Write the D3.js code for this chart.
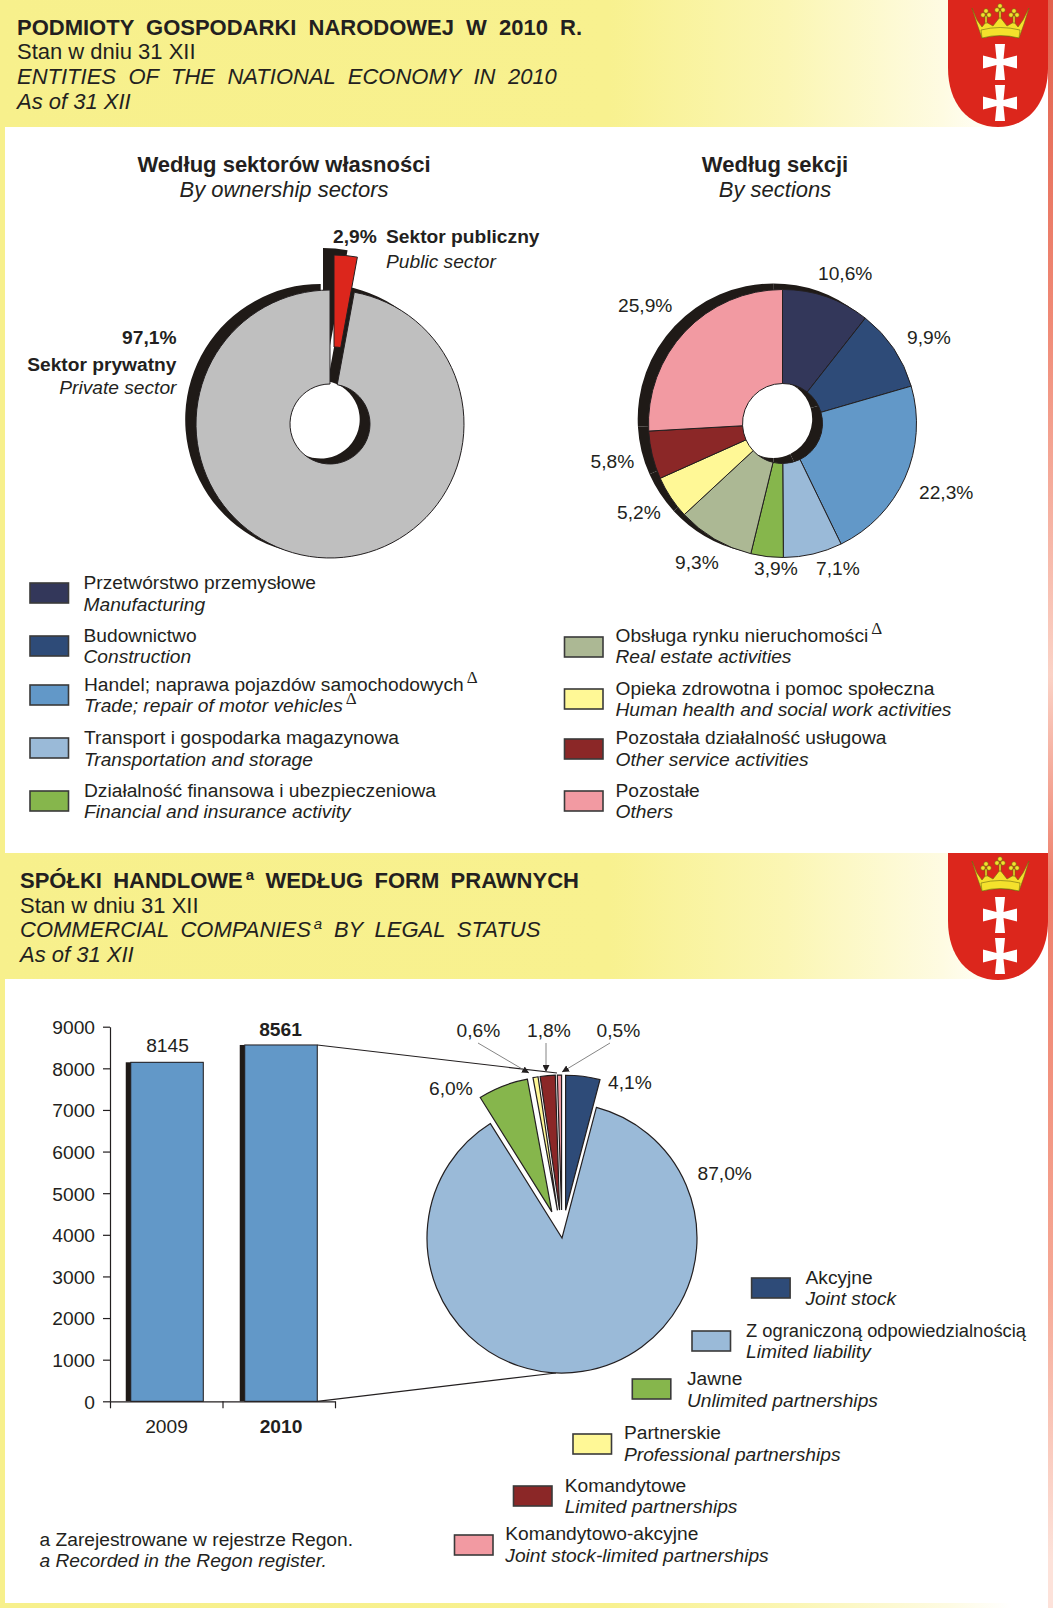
<!DOCTYPE html>
<html><head><meta charset="utf-8">
<script src="https://cdnjs.cloudflare.com/ajax/libs/d3/7.8.5/d3.min.js"></script>
<style>html,body{margin:0;padding:0;background:#fff}svg{display:block}
text{font-family:"Liberation Sans",Arial,sans-serif;fill:#231f20}</style></head><body>
<script>
// ---- data ----
const ownershipNames = ["Sektor publiczny","Sektor prywatny"];
const ownershipValues = [2.9,97.1];
const sectionNames = ["Przetwórstwo przemysłowe","Budownictwo","Handel; naprawa pojazdów samochodowych\u0394","Transport i gospodarka magazynowa","Działalność finansowa i ubezpieczeniowa","Obsługa rynku nieruchomości\u0394","Opieka zdrowotna i pomoc społeczna","Pozostała działalność usługowa","Pozostałe"];
const sectionNamesEn = ["Manufacturing","Construction","Trade; repair of motor vehicles\u0394","Transportation and storage","Financial and insurance activity","Real estate activities","Human health and social work activities","Other service activities","Others"];
const sectionValues = [10.6,9.9,22.3,7.1,3.9,9.3,5.2,5.8,25.9];
const sectionColors = ["#33375a","#2e4b78","#6298c8","#9abad8","#86b64c","#acb894","#fff896","#8b2727","#f29aa2"];
const years = ["2009","2010"];
const companyCounts = [8145,8561];
const yTicks = [0,1000,2000,3000,4000,5000,6000,7000,8000,9000];
const formNames = ["Akcyjne","Z ograniczoną odpowiedzialnością","Jawne","Partnerskie","Komandytowe","Komandytowo-akcyjne"];
const formNamesEn = ["Joint stock","Limited liability","Unlimited partnerships","Professional partnerships","Limited partnerships","Joint stock-limited partnerships"];
const formValues = [4.1,87.0,6.0,0.6,1.8,0.5];
const formColors = ["#2e4b78","#9abad8","#86b64c","#fff896","#8b2727","#f29aa2"];

// ---- helpers ----
const INK="#231f20", SHADOW="#1f1a17", BASE=19.2, HEAD=22;
const svg=d3.select("body").append("svg").attr("width",1053).attr("height",1608);
const defs=svg.append("defs");
const hg=defs.append("linearGradient").attr("id","hg");
[[0,"#f7f08c"],[.58,"#f8f18f"],[.75,"#fbf6b4"],[.9,"#fefbe2"],[.96,"#ffffff"]].forEach(s=>hg.append("stop").attr("offset",s[0]).attr("stop-color",s[1]));
const rg=defs.append("linearGradient").attr("id","rg").attr("x1",0).attr("x2",0).attr("y1",0).attr("y2",1);
[[0,"#e2604c"],[.2,"#f08a76"],[.42,"#fbd2c6"],[.55,"#ee7e6a"],[.8,"#f6a895"],[.97,"#fde2da"]].forEach(s=>rg.append("stop").attr("offset",s[0]).attr("stop-color",s[1]));
defs.append("marker").attr("id","ah").attr("viewBox","0 0 8 8").attr("refX",8).attr("refY",4).attr("markerUnits","userSpaceOnUse").attr("markerWidth",7).attr("markerHeight",7).attr("orient","auto").append("path").attr("d","M0,0L8,4L0,8Z").attr("fill",INK);

function put(g,x,y,str,o={}){
  const t=g.append("text").attr("x",x).attr("y",y).attr("font-size",o.size||BASE)
    .attr("font-weight",o.bold?"bold":null).attr("font-style",o.italic?"italic":null)
    .attr("text-anchor",o.anchor||"start");
  if(o.ws)t.attr("word-spacing",o.ws);
  const m=str.match(/^(.*?)(\u0394|\^a)(.*)$/);
  if(!m){t.text(str);return t;}
  t.append("tspan").text(m[1]);
  if(m[2]==="\u0394")
    t.append("tspan").attr("dx",3).attr("dy",-8).attr("font-size",17).attr("font-style","normal").style("font-family","Liberation Serif").text("\u0394");
  else{
    t.append("tspan").attr("dx",3).attr("dy",-8).attr("font-size",15).text("a");
    t.append("tspan").attr("dy",8).text(m[3]);
  }
  return t;
}
const pct=v=>v.toFixed(1).replace(".",",")+"%";

// ---- frame ----
const bg=svg.append("g");
bg.append("rect").attr("x",0).attr("y",0).attr("width",5).attr("height",1608).attr("fill","#f7f08c");
bg.append("rect").attr("x",0).attr("y",1603).attr("width",1053).attr("height",5).attr("fill","url(#hg)");
bg.append("rect").attr("x",1048).attr("y",0).attr("width",5).attr("height",1608).attr("fill","url(#rg)");
[[0,127],[853,126]].forEach(([y,h])=>bg.append("rect").attr("x",0).attr("y",y).attr("width",1048).attr("height",h).attr("fill","url(#hg)"));

function shield(y0){
  const g=svg.append("g").attr("transform",`translate(948,${y0})`);
  g.append("path").attr("d","M0,0H100V68C100,103 80,127 50,127C20,127 0,103 0,68Z").attr("fill","#dc261c");
  const cx=52;
  const cross=cy=>`M${cx-5},${cy-18}L${cx+5},${cy-18}L${cx+3.5},${cy-3}L${cx+17},${cy-6.5}L${cx+17},${cy+6.5}L${cx+3.5},${cy+3}L${cx+5},${cy+18}L${cx-5},${cy+18}L${cx-3.5},${cy+3}L${cx-17},${cy+6.5}L${cx-17},${cy-6.5}L${cx-3.5},${cy-3}Z`;
  [62,103].forEach(c=>g.append("path").attr("d",cross(c)).attr("fill","#fff"));
  const c=g.append("g").attr("fill","#f4e12c").attr("stroke","#6f6a12").attr("stroke-width",.6);
  c.append("path").attr("d","M24,8L29,20L34,27L38,22L45,26L52,17L59,26L66,22L70,27L75,20L81,8L76,24L71,38Q52,33 34,38L29,24Z");
  [[38,14],[52,9],[66,14]].forEach(p=>{
    [[0,-3],[-3,1],[3,1]].forEach(d=>c.append("circle").attr("cx",p[0]+d[0]).attr("cy",p[1]+d[1]).attr("r",2.3));
    c.append("rect").attr("x",p[0]-1).attr("y",p[1]+2).attr("width",2).attr("height",7);
  });
  c.append("path").attr("d","M33,30Q52,25 72,30L71,38Q52,33 34,38Z");
}
shield(0);shield(853);

// ---- headers ----
const head=svg.append("g");
put(head,17,34.5,"PODMIOTY GOSPODARKI NARODOWEJ W 2010 R.",{bold:true,size:HEAD,ws:6});
put(head,17,59,"Stan w dniu 31 XII",{size:HEAD});
put(head,17,84,"ENTITIES OF THE NATIONAL ECONOMY IN 2010",{italic:true,size:HEAD,ws:6.3});
put(head,17,108.5,"As of 31 XII",{italic:true,size:HEAD});
put(head,20,888,"SPÓŁKI HANDLOWE^a WEDŁUG FORM PRAWNYCH",{bold:true,size:HEAD,ws:5.2});
put(head,20,913,"Stan w dniu 31 XII",{size:HEAD});
put(head,20,937,"COMMERCIAL COMPANIES^a BY LEGAL STATUS",{italic:true,size:HEAD,ws:5.6});
put(head,20,962,"As of 31 XII",{italic:true,size:HEAD});

put(head,284,172,"Według sektorów własności",{bold:true,size:HEAD,anchor:"middle"});
put(head,284,197,"By ownership sectors",{italic:true,size:HEAD,anchor:"middle"});
put(head,775,172,"Według sekcji",{bold:true,size:HEAD,anchor:"middle"});
put(head,775,197,"By sections",{italic:true,size:HEAD,anchor:"middle"});

// ---- pies ----
const pie=d3.pie().sort(null).value(d=>d);
const SH=[-9.3,-4.5];
const shadowArc=d3.arc().innerRadius(39).outerRadius(135.5);

// ownership donut
{
  const cx=330,cy=424,R=134,r=40;
  const arcs=pie(ownershipValues);
  const fill=["#dc261c","#bfbfbf"];
  const tops=[d3.arc().innerRadius(37).outerRadius(129),d3.arc().innerRadius(r).outerRadius(R)];
  const g=svg.append("g").attr("transform",`translate(${cx},${cy})`);
  const shiftS=[[-7,-40.5],SH], shiftT=[[4,-40],[0,0]];
  [1,0].forEach(i=>g.append("path").attr("d",shadowArc(arcs[i])).attr("transform",`translate(${shiftS[i]})`).attr("fill",SHADOW));
  [1,0].forEach(i=>g.append("path").attr("d",tops[i](arcs[i])).attr("transform",`translate(${shiftT[i]})`).attr("fill",fill[i]).attr("stroke",INK).attr("stroke-width",1));
  const t=svg.append("g");
  put(t,333,243,pct(ownershipValues[0]),{bold:true});
  put(t,386,243,ownershipNames[0],{bold:true});
  put(t,386,268,"Public sector",{italic:true});
  put(t,176.5,343.5,pct(ownershipValues[1]),{bold:true,anchor:"end"});
  put(t,176.5,371,ownershipNames[1],{bold:true,anchor:"end"});
  put(t,176.5,394,"Private sector",{italic:true,anchor:"end"});
}

// sections donut
{
  const cx=782.5,cy=423.5,R=134,r=40;
  const arcs=pie(sectionValues);
  const g=svg.append("g").attr("transform",`translate(${cx},${cy})`);
  g.append("g").attr("transform",`translate(${SH})`).selectAll("path").data(arcs).join("path")
    .attr("d",shadowArc).attr("fill",SHADOW);
  g.append("g").selectAll("path").data(arcs).join("path")
    .attr("d",d3.arc().innerRadius(r).outerRadius(R))
    .attr("fill",(d,i)=>sectionColors[i]).attr("stroke",INK).attr("stroke-width",1);
  const lx=[818,907,919,816,754,675,617,590.5,618], ly=[280,343.5,499,575,575,569,519,467.5,312];
  const t=svg.append("g");
  sectionValues.forEach((v,i)=>put(t,lx[i],ly[i],pct(v)));
}

// sections legend
{
  const g=svg.append("g");
  const pos=[[30,583,83.5,589,610.5],[30,636,83.5,642,663],[30,685,84,691,712],[30,738,84,744,765.5],[30,791,84,797,818],
             [564.5,637,615.5,641.5,663],[564.5,689,615.5,695,716],[564.5,739,615.5,744,765.5],[564.5,791,615.5,797,818]];
  sectionNames.forEach((n,i)=>{const p=pos[i];
    g.append("rect").attr("x",p[0]).attr("y",p[1]).attr("width",38.5).attr("height",20).attr("fill",sectionColors[i]).attr("stroke","#3a3a3a").attr("stroke-width",1.6);
    put(g,p[2],p[3],n);put(g,p[2],p[4],sectionNamesEn[i],{italic:true});
  });
}

// bars
{
  const y=d3.scaleLinear().domain([0,9000]).range([1401.3,1026.7]);
  const xEdge=d3.scaleLinear().domain([0,2]).range([110,335]);
  const x=d3.scaleBand().domain(years).range([109,334]).paddingInner(.32).paddingOuter(.147);
  const g=svg.append("g");
  years.forEach((yr,i)=>{
    const X=x(yr),W=x.bandwidth(),Y=y(companyCounts[i]),H=y(0)-Y;
    g.append("rect").attr("x",X).attr("y",Y).attr("width",W).attr("height",H).attr("fill",SHADOW);
    g.append("rect").attr("x",X+5).attr("y",Y).attr("width",W-5).attr("height",H).attr("fill","#6298c8").attr("stroke",INK).attr("stroke-width",1);
    put(g,X+W/2+(i?2:3),Y-(i?9:10),String(companyCounts[i]),{bold:i===1,anchor:"middle"});
    put(g,X+W/2+(i?2.5:2),1432.5,yr,{bold:i===1,anchor:"middle"});
  });
  const ax=g.append("g").attr("transform","translate(110,0)").call(d3.axisLeft(y).tickValues(yTicks).tickSize(7).tickSizeOuter(0).tickPadding(8).tickFormat(d3.format("d")));
  const ax2=g.append("g").attr("transform","translate(0,1401.3)").call(d3.axisBottom(xEdge).tickValues([0,1,2]).tickSize(7).tickSizeOuter(0).tickFormat(""));
  [ax,ax2].forEach(a=>{a.selectAll("path,line").attr("stroke",INK).attr("stroke-width",1.2);});
  ax.selectAll("text").attr("font-size",BASE).attr("font-family","Liberation Sans").attr("fill",INK).attr("dy","0.36em");

  g.append("line").attr("x1",x("2010")+x.bandwidth()).attr("y1",y(companyCounts[1])).attr("x2",557).attr("y2",1073).attr("stroke",INK).attr("stroke-width",1.2);
  g.append("line").attr("x1",x("2010")+x.bandwidth()).attr("y1",y(0)).attr("x2",556).attr("y2",1373).attr("stroke",INK).attr("stroke-width",1.2);
}

// legal forms pie
{
  const cx=562,cy=1238,R=135,ex=28;
  const arcs=pie(formValues);
  const a=d3.arc().innerRadius(0).outerRadius(R);
  const g=svg.append("g").attr("transform",`translate(${cx},${cy})`);
  g.selectAll("path").data(arcs).join("path").attr("d",a)
    .attr("transform",d=>{if(d.index===1)return null;const m=(d.startAngle+d.endAngle)/2;return `translate(${ex*Math.sin(m)},${-ex*Math.cos(m)})`;})
    .attr("fill",(d,i)=>formColors[i]).attr("stroke",INK).attr("stroke-width",1.2).attr("stroke-linejoin","miter");
  const t=svg.append("g");
  const lx=[608,697.5,429,456.5,527,596.5], ly=[1089,1180,1095,1037,1037,1037];
  formValues.forEach((v,i)=>put(t,lx[i],ly[i],pct(v)));
  const arrows=[[478,1043,529,1073],[546,1043,546,1072],[610,1043,562,1072]];
  arrows.forEach(r=>t.append("line").attr("x1",r[0]).attr("y1",r[1]).attr("x2",r[2]).attr("y2",r[3]).attr("stroke","#777").attr("stroke-width",.9).attr("marker-end","url(#ah)"));

  const l=svg.append("g");
  const pos=[[751.6,1278,805.5,1284,1305],[692,1331,746,1337,1358],[632.3,1379,687,1385,1407],[573,1434,624,1439,1461],[513.5,1486,564.7,1492,1513],[454.5,1535,505.3,1540,1562]];
  formNames.forEach((n,i)=>{const p=pos[i];
    l.append("rect").attr("x",p[0]).attr("y",p[1]).attr("width",38.5).attr("height",20).attr("fill",formColors[i]).attr("stroke","#3a3a3a").attr("stroke-width",1.6);
    const tx=put(l,p[2],p[3],n);
    if(i===1)tx.attr("textLength",280).attr("lengthAdjust","spacingAndGlyphs");
    put(l,p[2],p[4],formNamesEn[i],{italic:true});
  });
}
const fn=svg.append("g");
put(fn,39.5,1545.5,"a Zarejestrowane w rejestrze Regon.");
put(fn,39.5,1567,"a Recorded in the Regon register.",{italic:true});
</script></body></html>
